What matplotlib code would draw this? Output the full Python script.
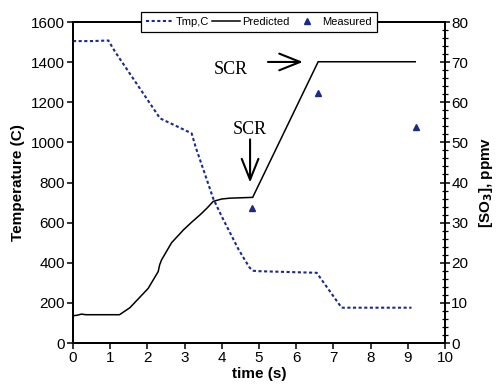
import matplotlib
matplotlib.use("Agg")
import matplotlib.pyplot as plt
from matplotlib.ticker import MultipleLocator

plt.rcParams['font.family'] = ['Liberation Sans', 'DejaVu Sans']

# Temperature (C) vs time
tmp_t = [0.0, 0.5, 0.95, 1.13, 2.34, 3.19, 3.3, 3.55, 3.77, 4.0, 4.22, 4.44, 4.6, 4.75, 4.85, 5.0, 6.55, 7.22, 9.1]
tmp_v = [1505, 1505, 1508, 1452, 1120, 1045, 975, 840, 720, 630, 550, 470, 420, 375, 360, 358, 350, 176, 176]

# Predicted SO3 (ppmv)
pred_t = [0.0, 0.1, 0.23, 0.35, 1.25, 1.53, 2.02, 2.29, 2.33, 2.38, 2.65, 2.97, 3.2, 3.41, 3.6, 3.77, 4.0, 4.22, 4.83, 6.59, 9.2]
pred_v = [6.8, 6.9, 7.2, 7.05, 7.05, 8.8, 13.6, 17.8, 19.5, 20.7, 25.0, 28.2, 30.2, 31.9, 33.6, 35.3, 35.9, 36.1, 36.3, 70.1, 70.1]

# Measured SO3 (ppmv)
meas_t = [4.81, 6.59, 9.22]
meas_v = [33.6, 62.4, 53.9]

navy = '#1c2a8a'

fig = plt.figure(figsize=(5, 3.9), dpi=100)
ax = fig.add_axes([0.146, 0.1205, 0.744, 0.823])
ax2 = ax.twinx()

l1, = ax.plot(tmp_t, tmp_v, color=navy, lw=1.5, linestyle=(0, (1.5, 1.2)), label='Tmp,C')
l2, = ax2.plot(pred_t, pred_v, color='black', lw=1.1, label='Predicted')
l3, = ax2.plot(meas_t, meas_v, linestyle='none', marker='^', color=navy, ms=5, label='Measured')

ax.set_xlim(0, 10)
ax.set_ylim(0, 1600)
ax2.set_ylim(0, 80)
ax.xaxis.set_major_locator(MultipleLocator(1))
ax.yaxis.set_major_locator(MultipleLocator(200))
ax2.yaxis.set_major_locator(MultipleLocator(10))
ax2.yaxis.set_minor_locator(MultipleLocator(2))

for a in (ax, ax2):
    for s in a.spines.values():
        s.set_linewidth(1.3)
ax.tick_params(axis='both', labelsize=11, direction='out', length=4, width=1.1, pad=2)
ax2.tick_params(axis='y', which='major', labelsize=11, direction='inout', length=7, width=1.1, pad=1)
ax2.tick_params(axis='y', which='minor', direction='inout', length=4, width=0.9)

ax.set_xlabel('time (s)', fontsize=11, fontweight='bold', labelpad=1)
ax.set_ylabel('Temperature (C)', fontsize=11, fontweight='bold', labelpad=4)
ax2.set_ylabel(r'[SO$_\mathbf{3}$], ppmv', fontsize=11, fontweight='bold', labelpad=6)

serif = ['Liberation Serif', 'DejaVu Serif']
arrow_style = '->, head_length=1.5, head_width=0.6'
ax.text(4.25, 1361, 'SCR', family=serif, fontsize=13, ha='center', va='center')
ax.annotate('', xy=(6.18, 1401), xytext=(5.24, 1401),
            arrowprops=dict(arrowstyle=arrow_style, lw=1.5, color='black', shrinkA=0, shrinkB=0))
ax.text(4.76, 1062, 'SCR', family=serif, fontsize=13, ha='center', va='center')
ax.annotate('', xy=(4.76, 800), xytext=(4.76, 1015),
            arrowprops=dict(arrowstyle=arrow_style, lw=1.5, color='black', shrinkA=0, shrinkB=0))

leg = ax2.legend(handles=[l1, l2, l3], loc='center', bbox_to_anchor=(0.5, 1.0), ncol=3,
                 fontsize=8, frameon=True, fancybox=False, framealpha=1, edgecolor='black',
                 handlelength=2.5, handletextpad=0.15, columnspacing=0.3, borderpad=0.45,
                 borderaxespad=0)
leg.get_frame().set_linewidth(0.9)

fig.savefig('out.png', dpi=100)
